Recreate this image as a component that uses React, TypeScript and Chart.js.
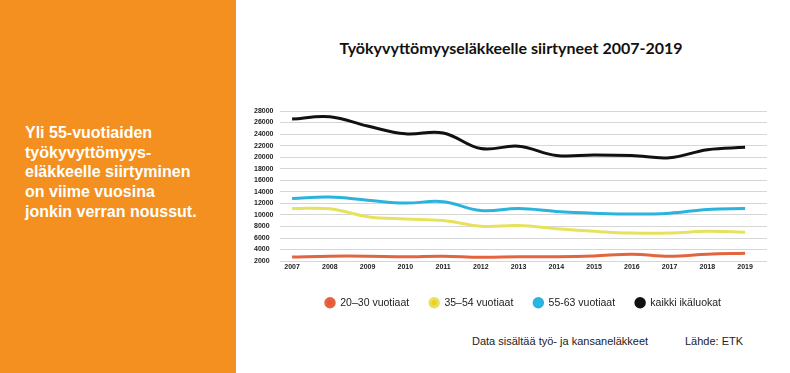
import React, { useEffect, useRef } from "react";
import { Chart, registerables } from "chart.js";

Chart.register(...registerables);

const years = [2007, 2008, 2009, 2010, 2011, 2012, 2013, 2014, 2015, 2016, 2017, 2018, 2019];
const age20to30 = [2700, 2850, 2850, 2750, 2850, 2650, 2750, 2750, 2900, 3200, 2850, 3200, 3350];
const age35to54 = [11100, 11050, 9700, 9300, 9050, 8050, 8150, 7600, 7150, 6850, 6850, 7150, 7000];
const age55to63 = [12850, 13100, 12550, 12050, 12300, 10750, 11100, 10600, 10300, 10150, 10300, 10950, 11100];
const allAges = [26600, 27000, 25400, 24050, 24200, 21500, 21900, 20300, 20400, 20300, 19900, 21300, 21700];
const seriesLabels = ["20–30 vuotiaat", "35–54 vuotiaat", "55-63 vuotiaat", "kaikki ikäluokat"];
const lineColors = ["#E4643F", "#E6E25E", "#2BB3DE", "#111111"];
const legendColors = ["#E8573A", "#F0CF1E", "#2BB8E0", "#111111"];
const yTicks = [2000, 4000, 6000, 8000, 10000, 12000, 14000, 16000, 18000, 20000, 22000, 24000, 26000, 28000];

const sideText = [
  "Yli 55-vuotiaiden",
  "työkyvyttömyys-",
  "eläkkeelle siirtyminen",
  "on viime vuosina",
  "jonkin verran noussut.",
];

const legendShift = {
  id: "legendShift",
  afterLayout(chart: any) {
    const lg = chart.legend;
    if (lg) {
      lg.left += 12.5;
      lg.right += 12.5;
      lg.top += 4;
      lg.bottom += 4;
    }
  },
};

export default function App() {
  const ref = useRef<HTMLCanvasElement>(null);
  useEffect(() => {
    if (!ref.current) return;
    const values = [age20to30, age35to54, age55to63, allAges];
    const chart = new Chart(ref.current, {
      type: "line",
      data: {
        datasets: values.map((v, i) => ({
          label: seriesLabels[i],
          data: v.map((y, j) => ({ x: years[j], y })),
          borderColor: lineColors[i],
          backgroundColor: legendColors[i],
          borderWidth: 3,
          tension: 0.4,
          pointRadius: 0,
          fill: false,
        })),
      },
      plugins: [legendShift],
      options: {
        animation: false,
        responsive: false,
        maintainAspectRatio: false,
        layout: { padding: { left: 14, right: 23, top: 21, bottom: 14 } },
        plugins: {
          title: { display: false },
          tooltip: { enabled: false },
          legend: {
            position: "bottom",
            labels: {
              usePointStyle: true,
              pointStyle: "circle",
              boxWidth: 10,
              boxHeight: 6,
              padding: 20,
              color: "#222",
              font: { family: "Liberation Sans, Arial, sans-serif", size: 10.5 },
            },
          },
        },
        scales: {
          x: {
            type: "linear",
            min: 2006.68,
            max: 2019.58,
            afterBuildTicks: (s: any) => {
              s.ticks = years.map((y) => ({ value: y }));
            },
            grid: { display: false, drawTicks: false, tickLength: 0 },
            border: { display: false },
            ticks: {
              color: "#222",
              padding: 2,
              maxRotation: 0,
              font: { family: "Liberation Sans, Arial, sans-serif", size: 7, weight: "bold" },
              callback: (v: any) => String(v),
            },
          },
          y: {
            min: 2000,
            max: 28000,
            afterBuildTicks: (s: any) => {
              s.ticks = yTicks.map((y) => ({ value: y }));
            },
            afterFit: (s: any) => {
              s.width = 26;
            },
            grid: { color: "#d6d6d6", lineWidth: 1, drawTicks: false },
            border: { display: false },
            ticks: {
              color: "#222",
              crossAlign: "far",
              padding: 4,
              font: { family: "Liberation Sans, Arial, sans-serif", size: 7, weight: "bold" },
              callback: (v: any) => String(v),
            },
          },
        },
      },
    });
    return () => chart.destroy();
  }, []);

  return (
    <div
      style={{
        position: "fixed",
        left: 0,
        top: 0,
        width: 790,
        height: 373,
        background: "#fff",
        overflow: "hidden",
        fontFamily: "Liberation Sans, Arial, sans-serif",
      }}
    >
      <div
        style={{
          position: "absolute",
          left: 0,
          top: 0,
          width: 236,
          height: 373,
          background: "#F3901F",
        }}
      >
        <div
          style={{
            position: "absolute",
            left: 25,
            top: 123,
            color: "#fff",
            fontWeight: "bold",
            fontSize: 16,
            lineHeight: "19.7px",
            whiteSpace: "nowrap",
          }}
        >
          {sideText.map((t, i) => (
            <div key={i}>{t}</div>
          ))}
        </div>
      </div>
      <div
        style={{
          position: "absolute",
          left: 232,
          width: 558,
          top: 38,
          textAlign: "center",
          fontFamily: "Lato, sans-serif",
          fontWeight: "bold",
          fontSize: 16,
          color: "#111",
        }}
      >
        Työkyvyttömyyseläkkeelle siirtyneet 2007-2019
      </div>
      <canvas
        ref={ref}
        width={550}
        height={238}
        style={{ position: "absolute", left: 240, top: 90, width: 550, height: 238 }}
      />
      <div style={{ position: "absolute", left: 472, top: 335, fontSize: 11, color: "#222" }}>
        Data sisältää työ- ja kansaneläkkeet
      </div>
      <div style={{ position: "absolute", left: 685, top: 335, fontSize: 11, color: "#222" }}>
        Lähde: ETK
      </div>
    </div>
  );
}
